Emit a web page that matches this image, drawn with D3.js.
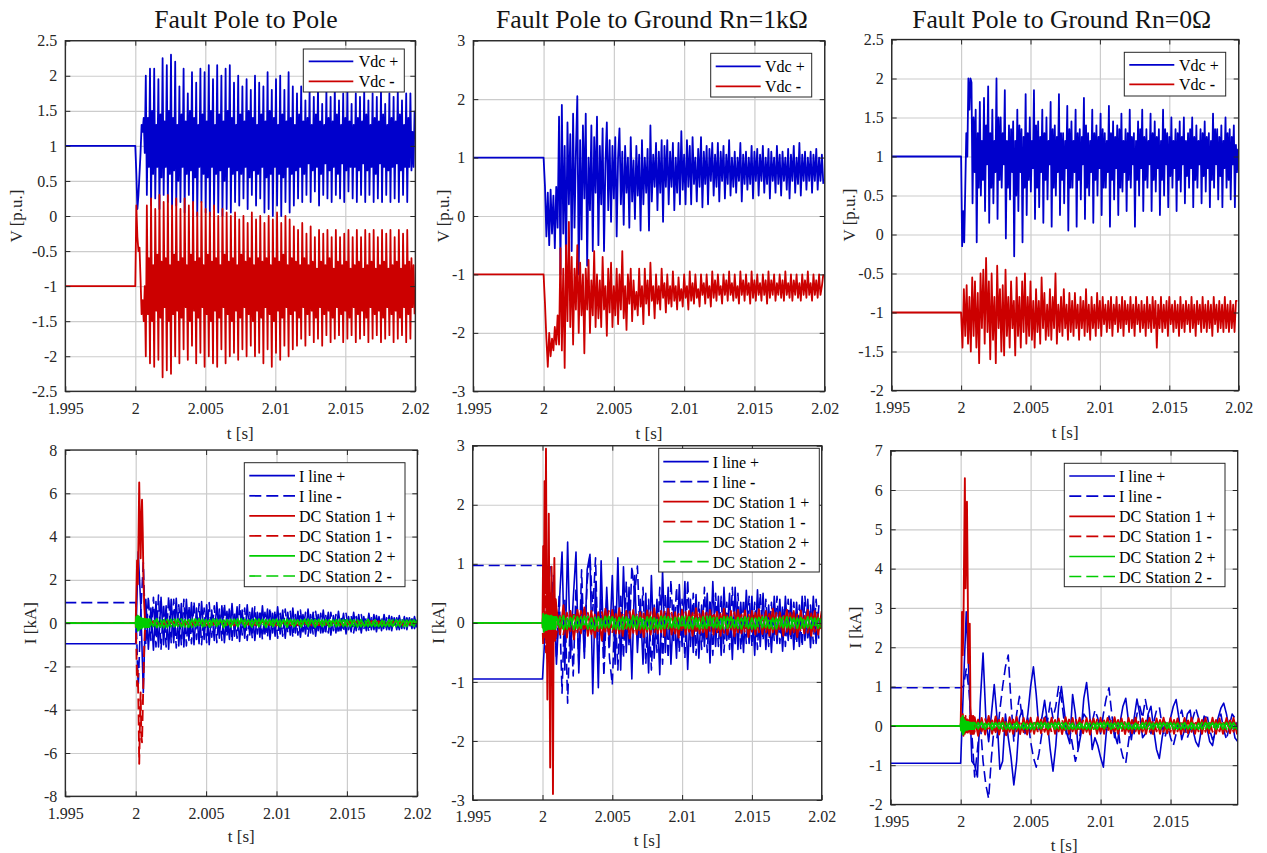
<!DOCTYPE html>
<html><head><meta charset="utf-8">
<script src="https://cdn.jsdelivr.net/npm/d3@7"></script>
<style>body{margin:0;background:#fff} svg text{font-family:"Liberation Serif",serif !important}</style>
</head><body><svg id="c" width="1267" height="853"></svg>
<script>
// ---------------- DATA ----------------
const tBegin = 1.995, tFault = 2.0, tBand = 2.001;
const dtFast = 0.000075, dtMid = 0.0001, dtI1 = 0.00018, dtI2 = 0.0002, dtTr = 0.00005, dtBand = 0.00025;

const timeTicks = [1.995, 2, 2.005, 2.01, 2.015, 2.02];
const timeTicksShort = [1.995, 2, 2.005, 2.01, 2.015];
const vTicksPP = [-2.5,-2,-1.5,-1,-0.5,0,0.5,1,1.5,2,2.5];
const vTicksG1k = [-3,-2,-1,0,1,2,3];
const vTicksG0 = [-2,-1.5,-1,-0.5,0,0.5,1,1.5,2,2.5];
const iTicksPP = [-8,-6,-4,-2,0,2,4,6,8];
const iTicksG1k = [-3,-2,-1,0,1,2,3];
const iTicksG0 = [-2,-1,0,1,2,3,4,5,6,7];

const titles = ["Fault Pole to Pole", "Fault Pole to Ground Rn=1k\u03A9", "Fault Pole to Ground Rn=0\u03A9"];
const vNames = ["Vdc ", "Vdc "];
const vSigns = ["+", "-"];
const iNames = ["I line ", "I line ", "DC Station 1 ", "DC Station 1 ", "DC Station 2 ", "DC Station 2 "];
const iSigns = ["+", "-", "+", "-", "+", "-"];

const preVdc = [1.0, -1.0];
const preILinePP = [-0.95, 0.95];
const preILineG = [-0.95, 0.97];

// Pole-to-pole voltages, sampled every dtFast from t = 2.0
const p2pVdcPos = [1.0,0.6,0.1,0.3,0.6,0.9,1.3,1.2,1.4,0.9,
2.0,0.3,1.4,0.7, 2.1,0.15,1.5,0.6, 2.1,0.25,1.3,0.7, 1.95,0.1,1.45,0.55,
2.25,0.3,1.35,0.7, 2.15,0.2,1.5,0.6, 2.3,0.1,1.4,0.65, 2.2,0.15,1.3,0.5,
1.85,0.2,1.45,0.7, 2.1,0.05,1.35,0.6, 1.75,0.3,1.5,0.65, 2.05,0.1,1.4,0.55,
1.9,0.0,1.3,0.7, 2.1,0.2,1.45,0.6, 2.05,0.05,1.35,0.55, 2.15,0.0,1.5,0.7,
1.95,0.1,1.3,0.6, 2.15,0.05,1.45,0.65, 2.0,0.0,1.35,0.5, 2.1,0.1,1.5,0.7,
2.15,0.05,1.4,0.6, 1.9,0.2,1.3,0.65, 2.0,0.15,1.45,0.6, 1.85,0.25,1.35,0.7,
1.95,0.1,1.5,0.55, 1.8,0.3,1.4,0.65, 2.0,0.15,1.3,0.6, 1.9,0.25,1.45,0.7,
1.85,0.05,1.35,0.55, 2.05,0.1,1.5,0.6, 1.8,0.0,1.4,0.7, 1.95,0.15,1.3,0.6,
2.0,0.0,1.45,0.55, 1.8,0.2,1.35,0.7, 2.05,0.05,1.4,0.6, 1.85,0.15,1.3,0.65,
1.75,0.25,1.45,0.7, 1.85,0.2,1.35,0.6, 1.65,0.3,1.4,0.75, 1.8,0.2,1.3,0.65,
1.7,0.35,1.45,0.7, 1.85,0.15,1.35,0.6, 1.6,0.3,1.3,0.75, 1.8,0.25,1.4,0.65,
1.7,0.2,1.35,0.7, 1.85,0.3,1.45,0.6, 1.65,0.25,1.3,0.75, 1.75,0.2,1.4,0.65,
1.8,0.35,1.35,0.7, 1.6,0.25,1.3,0.7, 1.75,0.2,1.4,0.65, 1.7,0.3,1.35,0.75,
1.8,0.2,1.45,0.65, 1.65,0.3,1.3,0.7, 1.75,0.2,1.4,0.6, 1.7,0.25,1.35,0.75,
1.8,0.2,1.45,0.7, 1.6,0.3,1.3,0.65, 1.75,0.2,1.4,0.7, 1.7,0.25,1.35,0.75,
1.8,0.2,1.45,0.65, 1.65,0.3,1.3,0.7, 1.75,0.2,1.4,0.7, 1.75,0.65,1.2,0.7,
1.5];
const p2pVdcNeg = [-1.0,0.15,-0.3,-0.5,-0.45,-0.9,-1.4,-1.2,-1.5,-1.0,
-2.0,0.15,-1.4,-0.6, -2.1,0.25,-1.5,-0.7, -2.15,0.1,-1.35,-0.55, -2.05,0.3,-1.45,-0.65,
-2.3,0.2,-1.3,-0.6, -2.2,0.3,-1.5,-0.7, -2.25,0.15,-1.4,-0.55, -2.0,0.25,-1.35,-0.65,
-2.1,0.1,-1.45,-0.6, -1.9,0.25,-1.3,-0.7, -2.05,0.15,-1.5,-0.55, -1.85,0.2,-1.35,-0.65,
-2.1,0.05,-1.45,-0.6, -1.95,0.2,-1.3,-0.7, -2.15,0.1,-1.4,-0.55, -2.0,0.05,-1.5,-0.65,
-2.1,0.15,-1.35,-0.6, -2.15,0.0,-1.45,-0.7, -1.9,0.1,-1.3,-0.55, -2.1,0.05,-1.4,-0.65,
-2.0,0.0,-1.5,-0.6, -1.95,0.05,-1.35,-0.7, -2.05,-0.05,-1.45,-0.55, -1.9,0.0,-1.3,-0.65,
-2.0,-0.1,-1.4,-0.6, -1.85,0.05,-1.5,-0.7, -2.0,-0.05,-1.35,-0.6, -1.95,0.0,-1.45,-0.65,
-2.1,-0.1,-1.3,-0.6, -1.9,0.0,-1.4,-0.7, -2.15,-0.05,-1.5,-0.6, -1.95,0.05,-1.35,-0.65,
-2.05,-0.1,-1.45,-0.55, -1.85,0.0,-1.3,-0.7, -2.0,-0.05,-1.4,-0.6, -1.9,-0.15,-1.35,-0.65,
-1.85,-0.2,-1.45,-0.7, -1.75,-0.1,-1.3,-0.6, -1.85,-0.25,-1.4,-0.7, -1.7,-0.15,-1.35,-0.65,
-1.8,-0.3,-1.45,-0.75, -1.75,-0.2,-1.3,-0.65, -1.85,-0.25,-1.4,-0.7, -1.7,-0.2,-1.35,-0.6,
-1.8,-0.3,-1.45,-0.75, -1.75,-0.2,-1.3,-0.65, -1.7,-0.3,-1.4,-0.7, -1.8,-0.25,-1.35,-0.65,
-1.75,-0.2,-1.45,-0.75, -1.7,-0.3,-1.3,-0.7, -1.8,-0.2,-1.4,-0.65, -1.75,-0.3,-1.35,-0.75,
-1.7,-0.2,-1.45,-0.7, -1.8,-0.25,-1.3,-0.65, -1.75,-0.2,-1.4,-0.75, -1.7,-0.3,-1.35,-0.7,
-1.8,-0.2,-1.45,-0.65, -1.75,-0.25,-1.3,-0.75, -1.7,-0.2,-1.4,-0.7, -1.8,-0.3,-1.35,-0.65,
-1.75,-0.2,-1.45,-0.75, -1.7,-0.25,-1.3,-0.7, -1.8,-0.2,-1.4,-0.65, -1.75,-0.6,-1.3,-0.7,
-1.4];

// Pole-to-ground Rn=1kOhm voltages, sampled every dtMid from t = 2.0
const g1kVdcPos = [1.0,0.5,-0.35,0.4,-0.5,0.45,-0.3,0.35,-0.55,0.5,
-0.2,1.7,-1.0,1.9,-0.3,1.2,-0.8,1.6,0.2,1.4,
-0.6,1.75,-0.2,1.1,2.05,-1.0,1.3,-0.4,1.55,0.3,
1.75,-0.85,1.0,0.1,1.55,-0.6,1.35,0.4,1.7,-0.5,
1.2,0.2,1.5,-0.6,0.9,1.6,0.1,1.3,-0.1,1.2,
0.3,1.35,-0.35,1.0,1.5,0.2,1.1,-0.15,1.2,0.4,
1.0,-0.2,1.35,0.25,0.95,-0.05,1.2,0.35,1.05,-0.25,
1.3,0.2,1.0,0.4,1.15,-0.25,1.55,0.25,1.05,0.5,
1.25,0.1,1.1,0.4,1.3,-0.1,1.2,0.5,1.3,0.2,
1.1,0.5,1.25,0.1,1.0,0.4,1.25,0.2,1.45,0.45,
1.05,0.2,1.3,0.5,1.2,0.2,1.35,0.55,1.0,0.25,
1.15,0.5,1.35,0.15,1.1,0.55,1.2,0.2,1.15,0.6,
1.25,0.35,1.05,0.5,1.25,0.25,1.1,0.6,1.2,0.3,
1.05,0.55,1.3,0.35,1.0,0.5,1.1,0.4,1.0,0.6,
1.25,0.25,1.05,0.55,1.1,0.45,1.0,0.55,1.2,0.3,
1.1,0.6,1.15,0.35,1.05,0.6,1.2,0.4,1.0,0.55,
1.15,0.3,1.1,0.6,1.0,0.4,1.2,0.55,1.05,0.35,
1.1,0.6,1.0,0.45,1.15,0.3,1.05,0.6,1.2,0.4,
1.0,0.55,1.25,0.35,1.05,0.6,1.1,0.45,1.0,0.6,
1.1,0.4,1.05,0.6,1.15,0.45,1.0,0.6,1.05,0.55];
const g1kVdcNeg = [-1.0,-1.5,-2.1,-2.58,-2.0,-2.4,-2.1,-2.3,-1.9,-2.2,
-1.7,-2.2,-0.55,-2.3,-0.9,-2.6,-0.5,-1.8,-0.1,-1.9,
-0.7,-2.2,-0.9,-1.6,-0.5,-2.0,-0.8,-1.7,-1.0,-2.35,
-0.9,-1.6,-0.75,-2.0,-1.1,-1.7,-0.6,-1.9,-1.0,-1.75,
-1.1,-1.9,-0.7,-1.6,-1.2,-2.05,-0.9,-1.65,-0.8,-1.9,
-1.2,-1.7,-0.9,-1.85,-1.0,-1.6,-0.6,-1.75,-1.2,-1.95,
-1.0,-1.5,-0.9,-1.8,-1.1,-1.6,-1.3,-1.7,-0.9,-1.55,
-1.2,-1.85,-0.9,-1.5,-1.1,-1.7,-0.8,-1.45,-1.2,-1.75,
-1.0,-1.5,-1.2,-1.6,-0.9,-1.4,-1.15,-1.65,-1.0,-1.5,
-1.2,-1.55,-0.95,-1.45,-1.2,-1.6,-1.05,-1.45,-1.25,-1.55,
-1.0,-1.4,-1.2,-1.6,-0.95,-1.45,-1.15,-1.5,-1.0,-1.4,
-1.25,-1.55,-1.0,-1.35,-1.15,-1.5,-1.0,-1.4,-1.2,-1.55,
-0.95,-1.4,-1.1,-1.45,-1.0,-1.35,-1.2,-1.5,-1.0,-1.35,
-1.1,-1.45,-0.95,-1.35,-1.15,-1.45,-1.0,-1.4,-1.2,-1.5,
-0.95,-1.35,-1.1,-1.45,-1.0,-1.35,-1.15,-1.5,-0.95,-1.4,
-1.1,-1.45,-1.0,-1.35,-1.15,-1.45,-1.0,-1.35,-1.1,-1.5,
-0.95,-1.4,-1.1,-1.35,-1.0,-1.45,-1.15,-1.35,-1.0,-1.4,
-1.1,-1.45,-0.95,-1.35,-1.15,-1.4,-1.0,-1.45,-1.1,-1.35,
-1.0,-1.4,-1.15,-1.45,-1.0,-1.35,-1.1,-1.4,-0.95,-1.35,
-1.15,-1.45,-1.0,-1.35,-1.1,-1.4,-1.0,-1.35,-1.2,-1.0];

// Pole-to-ground Rn=0 voltages
const g0VdcPos = [1.0,-0.15,0.3,-0.1,0.6,1.3,1.0,2.0,1.6,2.0,
1.95,0.4,1.5,0.8, 1.6,-0.1,1.3,0.6, 1.7,0.5,1.2,0.7, 1.75,0.3,1.4,0.9,
1.9,0.15,1.3,0.6, 1.6,0.4,1.2,0.8, 2.0,0.2,1.5,0.7, 1.5,0.6,1.3,0.9,
1.85,-0.05,1.2,0.6, 1.4,0.45,1.35,0.8, 1.45,-0.28,1.2,0.5, 1.6,0.3,1.4,0.8,
1.35,-0.1,1.25,0.6, 1.8,0.25,1.3,0.7, 1.5,0.55,1.2,0.85, 1.85,0.2,1.4,0.6,
1.45,0.35,1.25,0.8, 1.6,0.15,1.3,0.7, 1.5,0.45,1.2,0.9, 1.7,0.1,1.35,0.6,
1.4,0.5,1.25,0.8, 1.8,0.25,1.3,0.7, 1.3,0.4,1.2,0.85, 1.65,0.05,1.35,0.6,
1.45,0.6,1.2,0.8, 1.6,0.1,1.3,0.7, 1.35,0.45,1.25,0.9, 1.75,0.2,1.4,0.6,
1.3,0.5,1.2,0.8, 1.6,0.15,1.3,0.7, 1.4,0.5,1.25,0.85, 1.55,0.25,1.35,0.6,
1.3,0.6,1.2,0.8, 1.65,0.1,1.3,0.7, 1.45,0.45,1.25,0.85, 1.4,0.25,1.35,0.6,
1.55,0.55,1.2,0.8, 1.35,0.3,1.3,0.7, 1.6,0.6,1.25,0.9, 1.3,0.1,1.2,0.7,
1.45,0.5,1.35,0.85, 1.6,0.3,1.25,0.7, 1.35,0.6,1.2,0.9, 1.55,0.3,1.3,0.7,
1.45,0.55,1.25,0.85, 1.35,0.25,1.2,0.7, 1.6,0.5,1.35,0.9, 1.3,0.35,1.25,0.75,
1.5,0.6,1.2,0.85, 1.35,0.3,1.3,0.7, 1.45,0.55,1.25,0.9, 1.5,0.4,1.2,0.75,
1.3,0.6,1.35,0.85, 1.5,0.35,1.25,0.7, 1.4,0.6,1.2,0.9, 1.35,0.4,1.3,0.75,
1.45,0.55,1.25,0.85, 1.3,0.35,1.2,0.7, 1.55,0.6,1.35,0.9, 1.35,0.45,1.25,0.75,
1.4,0.35,1.2,0.85, 1.5,0.6,1.3,0.7, 1.35,0.45,1.25,0.9, 1.4,0.35,1.15,0.8,
1.1];
const g0VdcNeg = [-1.0,-1.45,-0.7,-1.3,-0.65,-1.4,-0.8,-1.5,-0.55,-1.3,
-0.6,-1.45,-0.75,-1.65,-0.5,-1.2,-0.45,-1.4,-0.3,-1.25,
-0.6,-1.6,-0.5,-1.35,-0.8,-1.65,-0.4,-1.2,-0.7,-1.5,
-0.65,-1.55,-0.45,-1.3,-0.8,-1.45,-0.6,-1.2,-0.85,-1.55,
-0.55,-1.3,-0.8,-1.45,-0.6,-1.25,-0.5,-1.4,-0.8,-1.3,
-0.6,-1.35,-0.85,-1.45,-0.7,-1.25,-0.85,-1.4,-0.55,-1.2,
-0.75,-1.35,-0.9,-1.3,-0.7,-1.35,-0.8,-1.2,-0.5,-1.4,
-0.9,-1.25,-0.8,-1.3,-0.7,-1.2,-0.9,-1.35,-0.75,-1.25,
-0.85,-1.3,-0.75,-1.2,-0.9,-1.35,-0.8,-1.2,-0.85,-1.3,
-0.7,-1.25,-0.9,-1.35,-0.8,-1.2,-0.9,-1.3,-0.75,-1.2,
-0.85,-1.3,-0.8,-1.15,-0.9,-1.25,-0.85,-1.2,-0.8,-1.3,
-0.9,-1.15,-0.8,-1.25,-0.9,-1.2,-0.8,-1.3,-0.85,-1.15,
-0.9,-1.25,-0.8,-1.2,-0.9,-1.3,-0.8,-1.15,-0.9,-1.25,
-0.85,-1.2,-0.9,-1.3,-0.8,-1.2,-0.9,-1.25,-0.8,-1.2,
-0.85,-1.45,-0.9,-1.2,-0.8,-1.25,-0.9,-1.2,-0.85,-1.3,
-0.8,-1.15,-0.9,-1.25,-0.85,-1.2,-0.9,-1.3,-0.8,-1.2,
-0.9,-1.25,-0.85,-1.15,-0.9,-1.25,-0.8,-1.2,-0.9,-1.3,
-0.85,-1.15,-0.9,-1.25,-0.8,-1.2,-0.9,-1.25,-0.85,-1.2,
-0.9,-1.3,-0.8,-1.15,-0.9,-1.25,-0.85,-1.2,-0.9,-1.25,
-0.8,-1.2,-0.9,-1.25,-0.85,-1.2,-0.9,-1.25,-0.85,-0.85];

// Line currents
const p2pILinePos = [-0.95,3.3,0.8,-3.2,1.1,-1.2,0.7,-1.25,1.0,-1.1,
1.2,-1.0,0.8,-1.2,1.1,-0.9,1.15,-1.05,0.9,-1.1,
1.1,-0.8,0.95,-1.0,0.7,-0.95,1.0,-0.75,0.85,-1.0,
0.6,-0.8,0.95,-0.7,0.8,-0.9,0.55,-0.75,0.9,-0.6,
0.75,-0.85,0.6,-0.7,0.85,-0.55,0.7,-0.8,0.5,-0.65,
0.8,-0.5,0.65,-0.75,0.45,-0.6,0.75,-0.5,0.6,-0.7,
0.5,-0.55,0.7,-0.45,0.55,-0.65,0.4,-0.5,0.65,-0.45,
0.5,-0.6,0.4,-0.45,0.6,-0.4,0.5,-0.55,0.35,-0.45,
0.55,-0.35,0.45,-0.5,0.3,-0.4,0.5,-0.35,0.4,-0.45,
0.3,-0.35,0.45,-0.3,0.4,-0.4,0.3,-0.35,0.4,-0.3,
0.35,-0.35,0.25,-0.3,0.35,-0.25,0.3,-0.3,0.25,-0.25,
0.3,-0.2];
const p2pILineNeg = [0.95,-3.0,0.5,2.8,-1.0,1.25,-0.8,1.2,-1.1,1.3,
-1.2,0.9,-1.1,1.25,-0.9,1.1,-1.15,0.85,-1.0,1.1,
-1.05,0.8,-0.95,1.0,-0.75,0.9,-1.0,0.7,-0.9,0.95,
-0.65,0.8,-0.9,0.65,-0.8,0.9,-0.6,0.75,-0.85,0.55,
-0.7,0.85,-0.55,0.7,-0.8,0.5,-0.7,0.75,-0.5,0.6,
-0.75,0.5,-0.65,0.7,-0.45,0.6,-0.7,0.45,-0.6,0.65,
-0.45,0.55,-0.65,0.4,-0.55,0.6,-0.4,0.5,-0.6,0.4,
-0.5,0.55,-0.35,0.45,-0.55,0.35,-0.45,0.5,-0.35,0.4,
-0.5,0.3,-0.4,0.45,-0.3,0.35,-0.45,0.3,-0.35,0.4,
-0.3,0.3,-0.4,0.25,-0.3,0.35,-0.25,0.3,-0.35,0.25,
-0.3,0.3,-0.2,0.25,-0.3,0.2,-0.25,0.25,-0.2,0.2,
-0.25,0.15];
const g1kILinePos = [-0.95,-0.1,0.6,-0.4,0.8,-0.7,0.3,1.2,-0.8,1.37,
-0.6,0.4,1.2,-0.85,0.5,-0.6,0.9,1.16,-1.2,0.7,
-1.1,1.05,-0.6,0.6,-0.4,0.8,-0.7,1.1,-0.8,0.95,
-0.5,0.6,-0.95,0.8,-0.5,0.4,-0.7,0.5,-0.85,0.8,
-0.6,0.4,-0.88,0.88,-0.5,0.6,-0.7,0.3,-0.6,0.65,
-0.4,0.7,-0.79,0.4,-0.5,0.48,-0.6,0.3,-0.4,0.5,
-0.68,0.7,-0.4,0.45,-0.55,0.6,-0.3,0.5,-0.62,0.6,
-0.45,0.35,-0.5,0.55,-0.35,0.45,-0.55,0.56,-0.4,0.5,
-0.45,0.3,-0.5,0.45,-0.35,0.4,-0.48,0.45,-0.3,0.4,
-0.45,0.35,-0.4,0.45,-0.3,0.4,-0.42,0.45,-0.35,0.3];
const g1kILineNeg = [0.97,0.95,0.9,0.95,0.3,-0.6,0.5,-1.19,0.4,-1.36,
0.2,-0.9,0.6,-0.7,0.9,-0.5,0.7,1.14,0.2,1.1,
-0.7,0.5,-0.9,0.4,-0.6,-1.05,0.3,-0.8,0.5,-0.6,
0.7,-0.4,0.96,0.5,0.96,-0.3,0.6,-0.7,0.4,-0.8,
0.3,-0.5,0.6,-0.7,0.5,-0.6,0.73,-0.3,0.6,-0.5,
0.4,-0.6,0.73,-0.4,0.5,-0.55,0.35,-0.45,0.6,-0.5,
0.4,-0.55,0.5,-0.4,0.45,-0.5,0.35,-0.45,0.6,-0.4,
0.5,-0.45,0.4,-0.35,0.45,-0.4,0.35,-0.45,0.5,-0.3,
0.4,-0.4,0.35,-0.3,0.45,-0.35,0.3,-0.4,0.4,-0.3,
0.35,-0.35,0.3,-0.4,0.45,-0.3,0.3,-0.35,0.4,-0.3];
const g0ILinePos = [-0.95,1.0,2.9,1.2,-0.9,-1.0,-1.3,0.6,1.85,0.2,
-0.4,0.3,1.05,0.2,-1.1,-0.9,0.3,-0.3,-0.8,-1.5,
-0.9,0.2,0.4,-0.2,0.3,1.0,1.5,0.8,-0.1,0.2,
0.65,0.1,-0.6,-1.15,-0.5,0.5,1.0,0.4,-0.2,-0.45,
0.8,0.3,-0.6,-0.2,0.7,1.1,0.4,-0.6,-0.3,-0.5,
-0.8,-1.05,-0.2,0.25,0.0,-0.2,-0.45,0.1,0.5,0.7,
0.1,-0.35,0.2,0.68,0.3,-0.3,-0.2,0.3,0.5,-0.1,
-0.6,-0.83,-0.3,0.1,-0.1,0.2,0.5,0.67,0.2,-0.35,
-0.1,0.3,0.4,-0.1,-0.4,-0.53,-0.1,0.25,-0.05,-0.4,
-0.5,-0.1,0.2,0.45,0.58,0.3,-0.1,0.1,-0.3,-0.4];
const g0ILineNeg = [0.97,1.0,1.45,0.9,-0.2,-1.3,-0.6,0.1,-0.9,-1.5,
-1.85,-0.8,0.0,-0.3,0.4,1.0,1.5,1.8,0.6,-0.4,
0.3,0.75,0.2,-0.1,0.2,-0.4,-0.8,-1.05,-0.7,-0.2,
0.3,0.1,0.6,0.2,0.5,1.0,0.7,0.1,-0.3,-0.1,
-0.5,-0.9,-0.6,0.0,0.3,0.2,-0.1,0.1,0.4,0.2,
-0.2,0.3,0.7,0.97,0.3,-0.3,0.1,-0.5,-0.8,-0.95,
-0.4,0.1,-0.2,0.3,0.5,0.2,0.67,0.3,-0.2,0.1,
0.4,0.48,0.0,-0.3,0.0,-0.3,-0.5,-0.2,0.2,0.4,
0.0,-0.3,-0.1,0.2,0.45,0.2,-0.2,0.1,0.3,-0.1,
-0.35,-0.2,0.1,0.3,-0.1,-0.35,0.0,0.3,0.2,-0.1];

// DC station currents: fault transient (every dtTr from 2.0), then ripple (every dtBand from 2.001)
const p2pSt1PosTr = [0,1.5,2.9,1.8,4.0,6.5,4.5,3.0,4.8,5.7,4.2,2.0,1.0,0.3,0.0,0.2,-0.1,0.15,-0.1,0.12];
const p2pSt1NegTr = [0,-1.2,-2.9,-2.2,-4.0,-6.5,-4.6,-3.2,-5.2,-5.5,-4.0,-2.6,-1.2,-0.4,0.0,-0.2,0.1,-0.15,0.1,-0.12];
const p2pSt2PosTr = [0,0.3,-0.2,0.35,-0.3,0.3,-0.25,0.25,-0.2,0.2,-0.2,0.2,-0.15,0.2,-0.15,0.18,-0.15,0.18,-0.15,0.18];
const p2pSt2NegTr = [0,-0.3,0.25,-0.35,0.3,-0.3,0.25,-0.25,0.2,-0.2,0.2,-0.2,0.15,-0.2,0.15,-0.18,0.15,-0.18,0.15,-0.18];
const g1kSt1PosTr = [0,1.3,0.2,2.4,0.5,2.95,0.3,-1.3,0.1,1.85,-0.2,-2.45,0.1,0.95,-0.3,-2.9,0.2,1.1,-0.3,0.4];
const g1kSt1NegTr = [0,-0.4,0.6,-0.3,0.9,-0.5,0.4,-0.6,0.95,-0.4,0.3,-0.9,0.5,-0.3,0.4,-0.5,0.3,-0.3,0.25,-0.25];
const g1kSt2PosTr = [0,0.15,-0.15,0.12,-0.12,0.14,-0.12,0.12,-0.1,0.12,-0.1,0.1,-0.1,0.12,-0.1,0.1,-0.1,0.1,-0.1,0.1];
const g1kSt2NegTr = [0,-0.14,0.15,-0.12,0.13,-0.12,0.12,-0.1,0.12,-0.1,0.11,-0.1,0.12,-0.1,0.1,-0.1,0.1,-0.1,0.1,-0.1];
const g0St1PosTr = [0,1.0,2.9,1.8,2.6,4.5,6.3,3.5,4.8,5.7,3.8,1.6,2.0,2.6,0.5,0.0,0.25,-0.2,0.25,-0.2];
const g0St1NegTr = [0,0.2,-0.2,0.3,-0.25,0.2,-0.2,0.25,-0.2,0.2,-0.25,0.2,-0.2,0.25,-0.2,0.2,-0.2,0.2,-0.15,0.2];
const g0St2PosTr = [0,0.2,-0.15,0.25,-0.2,0.15,-0.12,0.12,-0.1,0.1,-0.1,0.1,-0.08,0.08,-0.08,0.08,-0.08,0.08,-0.08,0.08];
const g0St2NegTr = [0,-0.2,0.15,-0.22,0.2,-0.15,0.12,-0.12,0.1,-0.1,0.1,-0.1,0.08,-0.08,0.08,-0.08,0.08,-0.08,0.08,-0.08];

const p2pSt1PosBand = [0.08,-0.1,0.12,-0.08,0.1,-0.12,0.09,-0.1,0.11,-0.08,0.1,-0.11,0.08,-0.1,0.12,-0.09,0.1,-0.08,0.11,-0.1,0.09,-0.12,0.1,-0.08,0.1,-0.1,0.12,-0.09,0.08,-0.11,0.1,-0.1,0.09,-0.08,0.11,-0.1,0.1,-0.12,0.08,-0.09,0.1,-0.1,0.11,-0.08,0.09,-0.1,0.12,-0.1,0.08,-0.09,0.1,-0.11,0.1,-0.08,0.09,-0.1,0.11,-0.09,0.1,-0.1,0.08,-0.11,0.1,-0.09,0.12,-0.08,0.1,-0.1,0.09,-0.1,0.11,-0.08,0.1,-0.1,0.09,-0.09,0.1];
const p2pSt1NegBand = [-0.1,0.09,-0.12,0.1,-0.08,0.11,-0.1,0.08,-0.11,0.1,-0.09,0.12,-0.1,0.08,-0.1,0.1,-0.12,0.09,-0.08,0.11,-0.1,0.1,-0.09,0.08,-0.11,0.1,-0.1,0.12,-0.08,0.09,-0.1,0.1,-0.11,0.08,-0.09,0.1,-0.12,0.1,-0.08,0.09,-0.1,0.11,-0.1,0.08,-0.09,0.1,-0.11,0.09,-0.1,0.1,-0.08,0.11,-0.1,0.09,-0.12,0.08,-0.1,0.1,-0.09,0.1,-0.11,0.08,-0.1,0.1,-0.09,0.09,-0.1,0.11,-0.08,0.1,-0.1,0.09,-0.11,0.1,-0.08,0.1,-0.1];
const p2pSt2PosBand = [0.18,-0.15,0.2,-0.18,0.16,-0.2,0.17,-0.16,0.19,-0.17,0.15,-0.19,0.18,-0.15,0.2,-0.17,0.16,-0.18,0.19,-0.15,0.17,-0.2,0.16,-0.17,0.18,-0.16,0.2,-0.18,0.15,-0.17,0.19,-0.16,0.17,-0.19,0.16,-0.15,0.18,-0.17,0.16,-0.18,0.17,-0.16,0.15,-0.17,0.18,-0.15,0.16,-0.18,0.17,-0.15,0.16,-0.17,0.15,-0.16,0.17,-0.15,0.16,-0.16,0.15,-0.17,0.16,-0.15,0.17,-0.14,0.15,-0.16,0.14,-0.15,0.16,-0.14,0.15,-0.15,0.14,-0.16,0.15,-0.14,0.15];
const p2pSt2NegBand = [-0.16,0.18,-0.19,0.15,-0.2,0.17,-0.16,0.18,-0.15,0.19,-0.17,0.16,-0.18,0.2,-0.15,0.17,-0.19,0.16,-0.17,0.18,-0.16,0.15,-0.2,0.17,-0.16,0.19,-0.15,0.17,-0.18,0.16,-0.17,0.19,-0.15,0.16,-0.18,0.17,-0.16,0.15,-0.17,0.18,-0.15,0.16,-0.17,0.15,-0.16,0.18,-0.15,0.16,-0.17,0.15,-0.16,0.15,-0.17,0.16,-0.14,0.16,-0.15,0.17,-0.14,0.15,-0.16,0.14,-0.15,0.16,-0.15,0.14,-0.16,0.15,-0.14,0.15,-0.15,0.14,-0.16,0.14,-0.15,0.15,-0.14];
const g1kSt1PosBand = [0.25,-0.2,0.3,-0.25,0.2,-0.28,0.22,-0.18,0.26,-0.22,0.2,-0.25,0.18,-0.3,0.24,-0.2,0.22,-0.18,0.25,-0.22,0.2,-0.26,0.22,-0.2,0.18,-0.24,0.21,-0.2,0.25,-0.18,0.2,-0.22,0.24,-0.2,0.18,-0.25,0.22,-0.2,0.2,-0.22,0.25,-0.18,0.2,-0.24,0.22,-0.2,0.19,-0.22,0.24,-0.2,0.2,-0.23,0.22,-0.18,0.21,-0.24,0.2,-0.2,0.23,-0.19,0.2,-0.22,0.24,-0.2,0.18,-0.22,0.22,-0.2,0.2,-0.24,0.21,-0.18,0.22,-0.22,0.2,-0.2,0.2];
const g1kSt1NegBand = [-0.18,0.15,-0.2,0.17,-0.14,0.19,-0.16,0.2,-0.15,0.17,-0.19,0.14,-0.17,0.18,-0.15,0.2,-0.17,0.15,-0.18,0.16,-0.15,0.19,-0.17,0.14,-0.2,0.16,-0.15,0.18,-0.17,0.15,-0.16,0.19,-0.14,0.17,-0.18,0.15,-0.16,0.18,-0.15,0.17,-0.19,0.15,-0.16,0.17,-0.14,0.18,-0.16,0.15,-0.17,0.16,-0.15,0.18,-0.16,0.14,-0.17,0.16,-0.15,0.17,-0.16,0.15,-0.18,0.15,-0.16,0.17,-0.14,0.16,-0.15,0.17,-0.16,0.14,-0.16,0.15,-0.17,0.16,-0.15,0.16,-0.15];
const g1kSt2PosBand = [0.1,-0.08,0.12,-0.1,0.09,-0.11,0.1,-0.09,0.11,-0.1,0.08,-0.12,0.1,-0.09,0.11,-0.08,0.1,-0.1,0.09,-0.11,0.1,-0.08,0.12,-0.1,0.09,-0.09,0.1,-0.11,0.08,-0.1,0.11,-0.09,0.1,-0.08,0.09,-0.1,0.11,-0.09,0.1,-0.1,0.08,-0.1,0.1,-0.09,0.11,-0.08,0.09,-0.1,0.1,-0.09,0.1,-0.08,0.09,-0.1,0.1,-0.09,0.08,-0.1,0.09,-0.08,0.1,-0.09,0.08,-0.1,0.09,-0.08,0.1,-0.09,0.08,-0.09,0.09,-0.08,0.1,-0.09,0.08,-0.09,0.08];
const g1kSt2NegBand = [-0.09,0.1,-0.11,0.08,-0.1,0.12,-0.09,0.1,-0.08,0.11,-0.1,0.09,-0.12,0.1,-0.08,0.11,-0.1,0.09,-0.11,0.1,-0.09,0.1,-0.08,0.11,-0.1,0.09,-0.11,0.1,-0.09,0.08,-0.1,0.11,-0.09,0.1,-0.08,0.09,-0.1,0.11,-0.09,0.1,-0.1,0.08,-0.09,0.11,-0.1,0.09,-0.08,0.1,-0.09,0.1,-0.08,0.1,-0.09,0.08,-0.1,0.09,-0.1,0.08,-0.09,0.1,-0.08,0.09,-0.1,0.08,-0.09,0.1,-0.08,0.09,-0.09,0.08,-0.09,0.1,-0.08,0.09,-0.09,0.08,-0.09];
const g0St1PosBand = [0.22,-0.25,0.2,-0.22,0.25,-0.2,0.24,-0.22,0.2,-0.24,0.22,-0.2,0.23,-0.21,0.2,-0.22,0.21,-0.2,0.22,-0.19,0.2,-0.22,0.21,-0.2,0.19,-0.21,0.22,-0.2,0.2,-0.2,0.21,-0.19,0.2,-0.22,0.19,-0.2,0.21,-0.2,0.2,-0.19,0.22,-0.2,0.19,-0.21,0.2,-0.19,0.21,-0.2,0.19,-0.2,0.2,-0.21,0.19,-0.2,0.21,-0.19,0.2,-0.2,0.19,-0.21,0.2,-0.19,0.21,-0.2,0.19,-0.2,0.2,-0.19,0.21,-0.2,0.19,-0.2,0.2,-0.19,0.2,-0.2,0.19];
const g0St1NegBand = [-0.15,0.16,-0.14,0.17,-0.15,0.14,-0.16,0.15,-0.17,0.14,-0.15,0.16,-0.14,0.15,-0.16,0.14,-0.15,0.15,-0.14,0.16,-0.15,0.14,-0.16,0.15,-0.14,0.15,-0.15,0.16,-0.14,0.15,-0.16,0.14,-0.15,0.15,-0.14,0.16,-0.15,0.14,-0.15,0.15,-0.14,0.15,-0.16,0.14,-0.15,0.15,-0.14,0.15,-0.15,0.14,-0.15,0.16,-0.14,0.15,-0.15,0.14,-0.15,0.15,-0.14,0.15,-0.15,0.14,-0.15,0.15,-0.14,0.15,-0.15,0.14,-0.15,0.15,-0.14,0.15,-0.15,0.14,-0.15,0.15,-0.14];
const g0St2PosBand = [0.08,-0.07,0.09,-0.08,0.07,-0.09,0.08,-0.07,0.08,-0.08,0.07,-0.08,0.09,-0.07,0.08,-0.08,0.07,-0.09,0.08,-0.07,0.08,-0.08,0.07,-0.08,0.09,-0.07,0.08,-0.08,0.07,-0.08,0.08,-0.07,0.08,-0.08,0.07,-0.08,0.08,-0.07,0.09,-0.08,0.07,-0.08,0.08,-0.07,0.08,-0.08,0.07,-0.08,0.08,-0.07,0.08,-0.08,0.07,-0.08,0.08,-0.07,0.08,-0.08,0.07,-0.08,0.08,-0.07,0.08,-0.08,0.07,-0.08,0.08,-0.07,0.08,-0.08,0.07,-0.08,0.08,-0.07,0.08,-0.08,0.07];
const g0St2NegBand = [-0.07,0.08,-0.08,0.07,-0.09,0.08,-0.07,0.08,-0.08,0.07,-0.08,0.09,-0.07,0.08,-0.08,0.07,-0.08,0.08,-0.07,0.09,-0.08,0.07,-0.08,0.08,-0.07,0.08,-0.09,0.07,-0.08,0.08,-0.07,0.08,-0.08,0.07,-0.08,0.08,-0.07,0.09,-0.08,0.07,-0.08,0.08,-0.07,0.08,-0.08,0.07,-0.08,0.08,-0.07,0.08,-0.08,0.07,-0.08,0.08,-0.07,0.08,-0.08,0.07,-0.08,0.08,-0.07,0.08,-0.08,0.07,-0.08,0.08,-0.07,0.08,-0.08,0.07,-0.08,0.07,-0.08,0.08,-0.07,0.08,-0.08];

// ---------------- RENDER ----------------
const SERIF = '"Liberation Serif", serif';
const INK = '#262626';
const BLUE = '#0000cc', RED = '#cc0000', GREEN = '#00cc00';
const DASH = '11,5';
const svg = d3.select('#c');

function pts(pre, segs) {
  const out = [[tBegin, pre]];
  segs.forEach(s => s.v.forEach((v, i) => out.push([s.t0 + i * s.dt, v])));
  return out;
}
const dcSeg = (tr, band) => [{t0: tFault, dt: dtTr, v: tr}, {t0: tBand, dt: dtBand, v: band}];

function vSeries(pos, dtp, neg, dtn) {
  return [
    {name: vNames[0], sign: vSigns[0], color: BLUE, dash: null, w: 1.8, d: pts(preVdc[0], [{t0: tFault, dt: dtp, v: pos}])},
    {name: vNames[1], sign: vSigns[1], color: RED, dash: null, w: 1.8, d: pts(preVdc[1], [{t0: tFault, dt: dtn, v: neg}])}
  ];
}
function iSeries(pre, dt, ip, ineg, s1p, s1n, s2p, s2n) {
  const specs = [
    [BLUE, null, 1.6, pts(pre[0], [{t0: tFault, dt, v: ip}])],
    [BLUE, DASH, 1.6, pts(pre[1], [{t0: tFault, dt, v: ineg}])],
    [RED, null, 1.9, pts(0, dcSeg(s1p[0], s1p[1]))],
    [RED, DASH, 1.9, pts(0, dcSeg(s1n[0], s1n[1]))],
    [GREEN, null, 1.9, pts(0, dcSeg(s2p[0], s2p[1]))],
    [GREEN, DASH, 1.9, pts(0, dcSeg(s2n[0], s2n[1]))]
  ];
  return specs.map((s, i) => ({name: iNames[i], sign: iSigns[i], color: s[0], dash: s[1], w: s[2], d: s[3]}));
}

const panels = [
  {box: [65.3, 40.7, 415.3, 391.3], xd: [1.995, 2.02], xt: timeTicks, yd: [-2.5, 2.5], yt: vTicksPP,
   title: titles[0], titleX: 246, ylab: 'V [p.u.]', ylabX: 16.7, xlabY: 433,
   leg: {box: [303.3, 49, 404.3, 92], rows: [61.3, 81.3], lx: [308.7, 353.3], tx: 358.7},
   series: vSeries(p2pVdcPos, dtFast, p2pVdcNeg, dtFast)},
  {box: [473.3, 40.7, 824.7, 391.3], xd: [1.995, 2.02], xt: timeTicks, yd: [-3, 3], yt: vTicksG1k,
   title: titles[1], titleX: 652, ylab: 'V [p.u.]', ylabX: 443.3, xlabY: 433,
   leg: {box: [710.7, 53.3, 811.7, 97], rows: [66.3, 86.3], lx: [715.7, 760.7], tx: 765},
   series: vSeries(g1kVdcPos, dtMid, g1kVdcNeg, dtMid)},
  {box: [891.7, 39.5, 1238.7, 390.5], xd: [1.995, 2.02], xt: timeTicks, yd: [-2, 2.5], yt: vTicksG0,
   title: titles[2], titleX: 1061.7, ylab: 'V [p.u.]', ylabX: 849.3, xlabY: 432,
   leg: {box: [1124.3, 52.3, 1225.7, 96], rows: [64.8, 84.3], lx: [1129.3, 1174.3], tx: 1179},
   series: vSeries(g0VdcPos, dtFast, g0VdcNeg, dtMid)},
  {box: [65.3, 450, 417.3, 796.3], xd: [1.995, 2.02], xt: timeTicks, yd: [-8, 8], yt: iTicksPP,
   title: null, ylab: 'I [kA]', ylabX: 30, xlabY: 836.5,
   leg: {box: [244.3, 462.7, 405, 586.7], rows: [475.7, 495.8, 515.8, 535.9, 555.9, 576], lx: [249.3, 295], tx: 299},
   series: iSeries(preILinePP, dtI1, p2pILinePos, p2pILineNeg, [p2pSt1PosTr, p2pSt1PosBand], [p2pSt1NegTr, p2pSt1NegBand], [p2pSt2PosTr, p2pSt2PosBand], [p2pSt2NegTr, p2pSt2NegBand])},
  {box: [472.7, 445.7, 821.7, 800], xd: [1.995, 2.02], xt: timeTicks, yd: [-3, 3], yt: iTicksG1k,
   title: null, ylab: 'I [kA]', ylabX: 438.3, xlabY: 840,
   leg: {box: [658.7, 448.3, 819.3, 572], rows: [461.7, 481.7, 501.7, 521.7, 541.7, 561.7], lx: [663.3, 708.7], tx: 712.7},
   series: iSeries(preILineG, dtI2, g1kILinePos, g1kILineNeg, [g1kSt1PosTr, g1kSt1PosBand], [g1kSt1NegTr, g1kSt1NegBand], [g1kSt2PosTr, g1kSt2PosBand], [g1kSt2NegTr, g1kSt2NegBand])},
  {box: [890.7, 450.7, 1237.7, 804.5], xd: [1.995, 2.0198], xt: timeTicksShort, yd: [-2, 7], yt: iTicksG0,
   title: null, ylab: 'I [kA]', ylabX: 855, xlabY: 845,
   leg: {box: [1064.3, 463.3, 1225, 586.7], rows: [476, 496.2, 516.3, 536.4, 556.5, 576.5], lx: [1069.3, 1115], tx: 1119},
   series: iSeries(preILineG, dtI2, g0ILinePos, g0ILineNeg, [g0St1PosTr, g0St1PosBand], [g0St1NegTr, g0St1NegBand], [g0St2PosTr, g0St2PosBand], [g0St2NegTr, g0St2NegBand])}
];

const fmt = d => String(+d.toFixed(4));

function styleAxis(sel) {
  sel.attr('font-family', SERIF).attr('font-size', 16);
  sel.select('.domain').remove();
  sel.selectAll('.tick line').attr('stroke', INK).attr('stroke-width', 1);
  sel.selectAll('.tick text').attr('fill', INK).style('font-family', SERIF);
}

panels.forEach((p, pi) => {
  const [L, T, R, B] = p.box;
  const x = d3.scaleLinear().domain(p.xd).range([L, R]);
  const y = d3.scaleLinear().domain(p.yd).range([B, T]);
  const g = svg.append('g');

  g.append('rect').attr('x', L).attr('y', T).attr('width', R - L).attr('height', B - T).attr('fill', '#fff');

  const gx = g.append('g').attr('transform', `translate(0,${B})`)
    .call(d3.axisBottom(x).tickValues(p.xt).tickSize(-(B - T)).tickFormat(''));
  gx.select('.domain').remove();
  gx.selectAll('line').attr('stroke', '#cccccc').attr('stroke-width', 1.2);
  const gy = g.append('g').attr('transform', `translate(${L},0)`)
    .call(d3.axisLeft(y).tickValues(p.yt).tickSize(-(R - L)).tickFormat(''));
  gy.select('.domain').remove();
  gy.selectAll('line').attr('stroke', '#cccccc').attr('stroke-width', 1.2);

  const cid = 'clip' + pi;
  svg.append('clipPath').attr('id', cid).append('rect')
    .attr('x', L).attr('y', T).attr('width', R - L).attr('height', B - T);

  const line = d3.line().x(d => x(d[0])).y(d => y(d[1]));
  const lg = g.append('g').attr('clip-path', `url(#${cid})`);
  lg.selectAll('path').data(p.series).join('path')
    .attr('d', s => line(s.d))
    .attr('fill', 'none')
    .attr('stroke', s => s.color)
    .attr('stroke-width', s => s.w)
    .attr('stroke-linejoin', 'round')
    .attr('stroke-dasharray', s => s.dash);

  g.append('g').attr('transform', `translate(0,${B})`)
    .call(d3.axisBottom(x).tickValues(p.xt).tickSizeInner(-5).tickSizeOuter(0).tickPadding(11).tickFormat(fmt)).call(styleAxis);
  g.append('g').attr('transform', `translate(${L},0)`)
    .call(d3.axisLeft(y).tickValues(p.yt).tickSizeInner(-5).tickSizeOuter(0).tickPadding(8).tickFormat(fmt)).call(styleAxis);
  g.append('g').attr('transform', `translate(0,${T})`)
    .call(d3.axisTop(x).tickValues(p.xt).tickSizeInner(-5).tickSizeOuter(0).tickFormat('')).call(styleAxis);
  g.append('g').attr('transform', `translate(${R},0)`)
    .call(d3.axisRight(y).tickValues(p.yt).tickSizeInner(-5).tickSizeOuter(0).tickFormat('')).call(styleAxis);

  g.append('rect').attr('x', L).attr('y', T).attr('width', R - L).attr('height', B - T)
    .attr('fill', 'none').attr('stroke', INK).attr('stroke-width', 1.3);

  g.append('text').attr('x', (L + R) / 2).attr('y', p.xlabY).attr('text-anchor', 'middle')
    .attr('dominant-baseline', 'central').style('font-family', SERIF).attr('font-size', 17).attr('fill', INK).text('t [s]');
  g.append('text').attr('transform', `translate(${p.ylabX},${(T + B) / 2}) rotate(-90)`).attr('text-anchor', 'middle')
    .attr('dominant-baseline', 'central').style('font-family', SERIF).attr('font-size', 17).attr('fill', INK).text(p.ylab);
  if (p.title) {
    g.append('text').attr('x', p.titleX).attr('y', 28).attr('text-anchor', 'middle')
      .style('font-family', SERIF).attr('font-size', 25.7).attr('fill', '#141414').text(p.title);
  }

  const lb = p.leg.box;
  const leg = g.append('g');
  leg.append('rect').attr('x', lb[0]).attr('y', lb[1]).attr('width', lb[2] - lb[0]).attr('height', lb[3] - lb[1])
    .attr('fill', '#fff').attr('stroke', INK).attr('stroke-width', 1);
  p.series.forEach((s, i) => {
    const yy = p.leg.rows[i];
    leg.append('line').attr('x1', p.leg.lx[0]).attr('x2', p.leg.lx[1]).attr('y1', yy).attr('y2', yy)
      .attr('stroke', s.color).attr('stroke-width', 1.7).attr('stroke-dasharray', s.dash ? '12,5' : null);
    const t = leg.append('text').attr('x', p.leg.tx).attr('y', yy).attr('dominant-baseline', 'central')
      .style('font-family', SERIF).attr('font-size', 16).attr('fill', '#000');
    t.append('tspan').text(s.name);
    t.append('tspan').attr('font-weight', s.sign === '-' ? 'bold' : 'normal').text(s.sign);
  });
});
</script>
</body></html>
